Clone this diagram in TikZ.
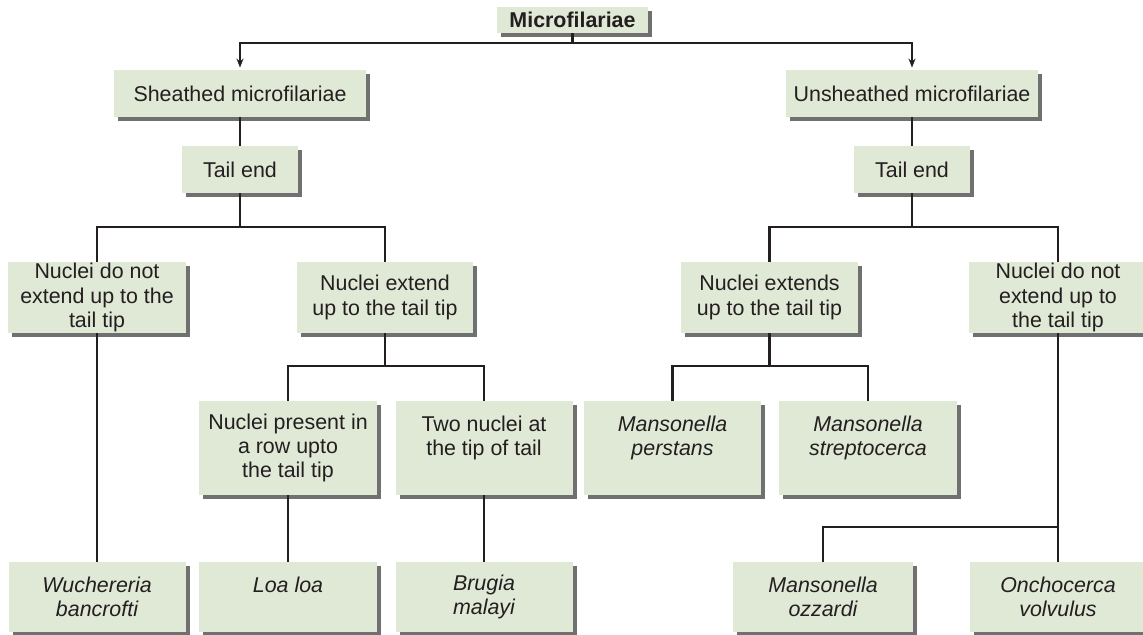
\documentclass[tikz,border=0pt]{standalone}
\usepackage{fontspec}
\setmainfont{Liberation Sans}
\usetikzlibrary{shadows,arrows.meta}

\definecolor{boxfill}{RGB}{224,232,214}
\definecolor{shadowgray}{RGB}{112,112,112}
\definecolor{linecol}{RGB}{35,31,32}

\tikzset{
  boxsize/.style 2 args={minimum width=#1*0.5pt, minimum height=#2*0.5pt},
  box/.style={fill=boxfill, text=linecol, align=center, inner sep=0pt,
    drop shadow={shadow xshift=2pt, shadow yshift=-2pt, fill=shadowgray, opacity=1},
    font=\fontsize{10.7}{12.1}\selectfont},
  species/.style={box, font=\fontsize{10.7}{12.1}\selectfont\itshape},
  link/.style={draw=linecol, line width=1.35pt},
  arr/.style={link, -{Stealth[length=4.5pt,width=3.5pt]}, shorten >=1pt},
}

\begin{document}
\begin{tikzpicture}[x=0.5pt,y=-0.5pt]
    \useasboundingbox (0,0) rectangle (1143,635);

    % Root
    \node[box, boxsize={151}{26}, font=\fontsize{10.7}{12.1}\selectfont\bfseries] (root) at (572.5,20) {Microfilariae};

    % Sheathed / unsheathed
    \node[box, boxsize={252}{47}] (sheath) at (240,93.5) {Sheathed microfilariae};
    \node[box, boxsize={252}{47}] (unsheath) at (912,93.5) {Unsheathed microfilariae};

    % Tail end
    \node[box, boxsize={116}{47}] (tailL) at (240,169.5) {Tail end};
    \node[box, boxsize={116}{47}] (tailR) at (912,169.5) {Tail end};

    % Nuclei (third row)
    \node[box, boxsize={178}{71}] (ndnL) at (97,297.5) {Nuclei do not\\extend up to the\\tail tip};
    \node[box, boxsize={176}{71}] (neL) at (385,297.5) {Nuclei extend\\up to the tail tip};
    \node[box, boxsize={177}{71}] (neR) at (769.5,297.5) {Nuclei extends\\up to the tail tip};
    \node[box, boxsize={178}{71}] (ndnR) at (1058,297.5) {Nuclei do not\\extend up to\\the tail tip};

    % Fourth row
    \node[box, boxsize={178}{94}] (rowL) at (288,448) {Nuclei present in\\a row upto\\the tail tip};
    \node[box, boxsize={177}{94}] (twoL) at (484,448) {Two nuclei at\\the tip of tail\\~};
    \node[species, boxsize={177}{94}] (persR) at (672.5,448) {Mansonella\\perstans\\~};
    \node[species, boxsize={178}{94}] (strepR) at (868,448) {Mansonella\\streptocerca\\~};

    % Species (bottom row)
    \node[species, boxsize={177}{70}] (wuch) at (97,597) {Wuchereria\\bancrofti};
    \node[species, boxsize={178}{70}] (loa) at (288,597) {Loa loa\\~};
    \node[species, boxsize={177}{70}] (brug) at (484,597) {Brugia\\malayi};
    \node[species, boxsize={180}{70}] (ozz) at (823,597) {Mansonella\\ozzardi};
    \node[species, boxsize={177}{70}] (oncho) at (1058,597) {Onchocerca\\volvulus};

    % Connectors
    \draw[arr] (root.south) -- (root.south |- 0,43) -| (sheath.north);
    \draw[arr] (root.south |- 0,43) -| (unsheath.north);

    \draw[link] (sheath.south) -- (tailL.north);
    \draw[link] (unsheath.south) -- (tailR.north);

    \draw[link] (tailL.south) -- (tailL.south |- 0,227) -| (ndnL.north);
    \draw[link] (tailL.south |- 0,227) -| (neL.north);
    \draw[link] (tailR.south) -- (tailR.south |- 0,227) -| (neR.north);
    \draw[link] (tailR.south |- 0,227) -| (ndnR.north);

    \draw[link] (neL.south) -- (neL.south |- 0,366) -| (rowL.north);
    \draw[link] (neL.south |- 0,366) -| (twoL.north);
    \draw[link] (neR.south) -- (neR.south |- 0,366) -| (persR.north);
    \draw[link] (neR.south |- 0,366) -| (strepR.north);

    \draw[link] (ndnL.south) -- (wuch.north);
    \draw[link] (rowL.south) -- (loa.north);
    \draw[link] (twoL.south) -- (brug.north);
    \draw[link] (ndnR.south) -- (oncho.north);
    \draw[link] (ndnR.south |- 0,527) -| (ozz.north);
\end{tikzpicture}
\end{document}
